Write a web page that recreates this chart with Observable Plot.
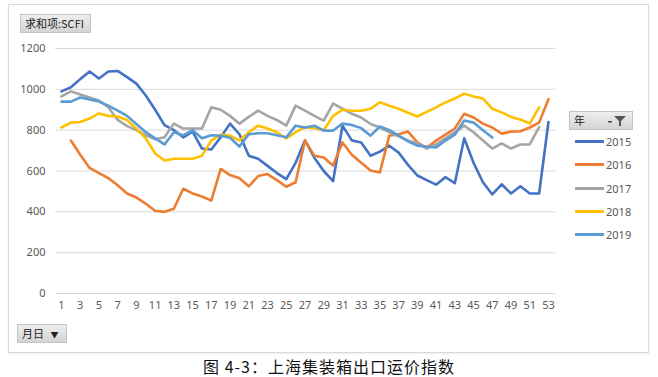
<!DOCTYPE html>
<html><head><meta charset="utf-8">
<script src="https://cdn.jsdelivr.net/npm/d3@7"></script>
<script src="https://cdn.jsdelivr.net/npm/@observablehq/plot@0.6"></script>
<style>
body{margin:0;background:#fff;font-family:"Noto Sans","DejaVu Sans",sans-serif;}
#wrap{position:relative;width:658px;height:377px;overflow:hidden;background:#fff;}
#frame{position:absolute;left:8px;top:4px;width:639px;height:347px;border:1px solid #d9d9d9;box-shadow:0 1px 2px #eee;}
#chart{position:absolute;left:0;top:0;}
.btn{position:absolute;background:linear-gradient(#eeeeee,#d4d4d4);border:1px solid #c4c4c4;font-size:11px;color:#222;line-height:17px;box-sizing:border-box;font-family:"Noto Sans CJK SC","Noto Sans",sans-serif;white-space:nowrap;}
#legend{position:absolute;left:575px;top:130px;font-size:11px;color:#595959;}
.li{position:relative;height:23.3px;display:flex;align-items:center;}
.sw{width:29px;height:3px;margin-right:2px;}
#cap{position:absolute;left:0;width:658px;top:357px;text-align:center;font-size:16px;letter-spacing:1px;color:#111;font-family:"Noto Sans CJK SC",sans-serif;line-height:19px;height:19px;}
</style></head>
<body>
<div id="wrap">
  <div id="frame"></div>
  <div id="chart"></div>
  <div class="btn" style="left:20px;top:14px;width:71px;height:19px;padding-left:4px;">求和项:SCFI</div>
  <div class="btn" style="left:17px;top:324px;width:50px;height:19px;padding-left:4px;">月日 <span style="font-size:8px;margin-left:4px;">▼</span></div>
  <div class="btn" style="left:569px;top:111px;width:64px;height:19px;padding-left:4px;">年<svg style="position:absolute;right:4px;top:3px" width="20" height="12"><rect x="0" y="6" width="4" height="1.5" fill="#444"/><path d="M6 1 L18 1 L13 6 L13 11 L11 11 L11 6 Z" fill="#555"/></svg></div>
  <div id="legend"></div>
  <div id="cap">图 4-3：上海集装箱出口运价指数</div>
</div>
<script>
const weeks = [1,2,3,4,5,6,7,8,9,10,11,12,13,14,15,16,17,18,19,20,21,22,23,24,25,26,27,28,29,30,31,32,33,34,35,36,37,38,39,40,41,42,43,44,45,46,47,48,49,50,51,52,53];
const xTicks = [1,3,5,7,9,11,13,15,17,19,21,23,25,27,29,31,33,35,37,39,41,43,45,47,49,51,53];
const yTicks = [0,200,400,600,800,1000,1200];
const years = ["2015","2016","2017","2018","2019"];
const colors = ["#4472C4","#ED7D31","#A5A5A5","#FFC000","#5B9BD5"];

const s2015 = [990,1010,1050,1087,1053,1087,1090,1060,1028,970,900,825,800,765,793,710,705,765,832,780,675,660,625,590,560,640,750,665,600,550,822,750,740,675,695,724,690,630,578,555,533,570,540,760,640,545,485,535,490,525,490,490,840];
const s2016 = [null,749,680,615,590,565,530,490,470,440,405,400,415,513,490,475,455,610,580,565,525,575,585,555,523,545,749,675,666,627,740,680,640,602,593,773,780,793,740,712,749,778,808,880,862,832,813,783,793,795,813,837,952];
const s2017 = [965,990,975,960,945,912,850,820,800,775,755,765,832,808,808,808,912,900,870,832,865,896,870,850,822,920,896,870,847,930,905,880,862,830,813,790,770,750,735,710,730,760,790,822,790,749,710,735,710,730,730,815,null];
const s2018 = [813,837,840,857,882,870,867,850,808,760,686,651,660,660,660,675,749,778,773,750,790,822,808,790,759,790,815,810,800,870,900,895,895,905,937,920,905,885,867,890,912,936,955,979,965,955,905,887,865,852,832,912,null];
const s2019 = [940,940,960,950,940,920,896,870,830,790,760,730,790,775,800,760,775,773,763,720,780,785,785,775,765,822,813,822,798,798,832,825,810,773,818,800,773,745,724,720,715,749,778,847,837,800,764,null,null,null,null,null,null];

const series = [s2015,s2016,s2017,s2018,s2019];
const rows = [];
series.forEach((s,i)=>s.forEach((v,j)=>{ if(v!=null) rows.push({year:years[i], week:weeks[j], value:v}); }));

const chart = Plot.plot({
  width:560, height:320,
  marginLeft:55, marginRight:5, marginTop:48, marginBottom:27,
  style:{fontFamily:"Noto Sans, DejaVu Sans, sans-serif", fontSize:"11px", background:"transparent", overflow:"visible"},
  x:{domain:[0.36,53.75]},
  y:{domain:[0,1200]},
  color:{domain:years, range:colors},
  marks:[
    Plot.gridY(yTicks,{stroke:"#d9d9d9", strokeOpacity:1, strokeWidth:1}),
    Plot.axisY(yTicks,{tickSize:0, tickPadding:10, label:null, fill:"#595959", fontSize:11, tickFormat:d3.format("d")}),
    Plot.axisX(xTicks,{tickSize:0, tickPadding:8, label:null, fill:"#595959", fontSize:11, tickFormat:d3.format("d")}),
    Plot.line(rows,{x:"week", y:"value", z:"year", stroke:"year", strokeWidth:2.6, strokeLinejoin:"round", strokeLinecap:"round", curve:"linear"})
  ]
});
document.getElementById("chart").appendChild(chart);

const leg = document.getElementById("legend");
years.forEach((y,i)=>{
  const d = document.createElement("div");
  d.className="li";
  d.innerHTML = `<div class="sw" style="background:${colors[i]}"></div><span>${y}</span>`;
  leg.appendChild(d);
});
</script>
</body></html>
